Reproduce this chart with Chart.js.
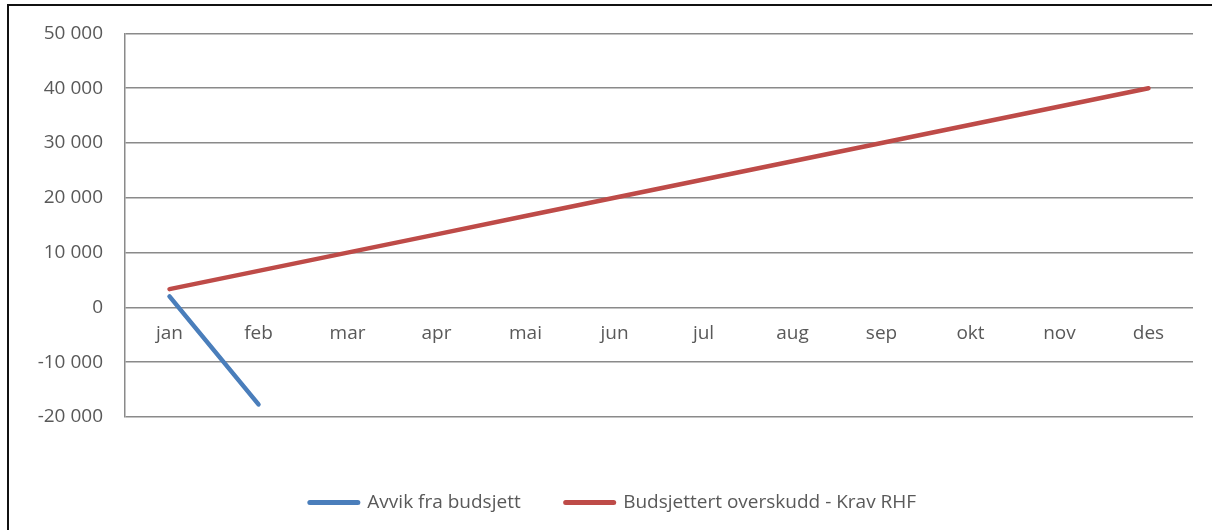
<!DOCTYPE html>
<html>
<head>
<meta charset="utf-8">
<script src="https://cdn.jsdelivr.net/npm/chart.js@4/dist/chart.umd.min.js"></script>
<style>
    body { margin: 0; background: #fff; }
    #wrap { position: relative; width: 1212px; height: 530px; }
    #frame {
        position: absolute; left: 7px; top: 4px; right: 0; bottom: 0;
        border-top: 2px solid #111; border-left: 2px solid #111;
        pointer-events: none;
    }
</style>
</head>
<body>
<div id="wrap">
    <canvas id="result-chart" width="1212" height="530"></canvas>
    <div id="frame"></div>
</div>
<script>
// months on the category axis
var months = ["jan", "feb", "mar", "apr", "mai", "jun", "jul", "aug", "sep", "okt", "nov", "des"];

// deviation from budget (only jan and feb reported so far)
var avvik = [2000, -17700, null, null, null, null, null, null, null, null, null, null];

// budgeted surplus, RHF requirement (cumulative)
var krav = [3333, 6667, 10000, 13333, 16667, 20000, 23333, 26667, 30000, 33333, 36667, 40000];

var yMin = -20000;
var yMax = 50000;
var yStep = 10000;

var textColor = "#595959";
var gridColor = "#8a8a8a";

Chart.defaults.font.family = "'Open Sans', 'Noto Sans', sans-serif";
Chart.defaults.font.size = 19;
Chart.defaults.color = textColor;

function formatNumber(v) {
    var s = String(Math.abs(v)).replace(/\B(?=(\d{3})+(?!\d))/g, " ");
    return v < 0 ? "-" + s : s;
}

var ctx = document.getElementById("result-chart").getContext("2d");
var myChart = new Chart(ctx, {
    type: 'line',
    data: {
        labels: months,
        datasets: [
            {
                label: 'Avvik fra budsjett',
                data: avvik,
                borderColor: "#4a7ebb",
                backgroundColor: "#4a7ebb",
                borderWidth: 4.5,
                borderCapStyle: 'round',
                pointRadius: 0,
                tension: 0,
                spanGaps: false
            },
            {
                label: 'Budsjettert overskudd - Krav RHF',
                data: krav,
                borderColor: "#be4b48",
                backgroundColor: "#be4b48",
                borderWidth: 4.5,
                borderCapStyle: 'round',
                pointRadius: 0,
                tension: 0
            }
        ]
    },
    options: {
        responsive: false,
        animation: false,
        layout: {
            padding: { left: 33, right: 19, top: 33, bottom: 8 }
        },
        plugins: {
            tooltip: { enabled: false },
            legend: {
                position: 'bottom',
                // empty title only used as a spacer above the items
                title: {
                    display: true,
                    text: '',
                    font: { size: 10 },
                    padding: { top: 9, bottom: 10 }
                },
                labels: {
                    usePointStyle: true,
                    pointStyle: 'line',
                    pointStyleWidth: 48,
                    padding: 45,
                    color: textColor,
                    generateLabels: function (chart) {
                        var items = Chart.defaults.plugins.legend.labels.generateLabels(chart);
                        items.forEach(function (it) {
                            it.pointStyle = 'line';
                            it.lineWidth = 5;
                            it.lineCap = 'round';
                        });
                        return items;
                    }
                }
            }
        },
        scales: {
            x: {
                position: { y: 0 },
                offset: true,
                grid: { display: false, drawTicks: false, offset: true },
                border: { display: false },
                ticks: { padding: 15, maxRotation: 0, color: textColor },
                afterFit: function (scale) { scale.height = 0; }
            },
            y: {
                min: yMin,
                max: yMax,
                grid: { color: gridColor, lineWidth: 1.5, drawTicks: false },
                border: { color: gridColor, width: 1.5 },
                ticks: {
                    stepSize: yStep,
                    padding: 22,
                    color: textColor,
                    callback: function (v) { return formatNumber(v); }
                },
                afterFit: function (scale) { scale.width = 92; }
            }
        }
    }
});
</script>
</body>
</html>
